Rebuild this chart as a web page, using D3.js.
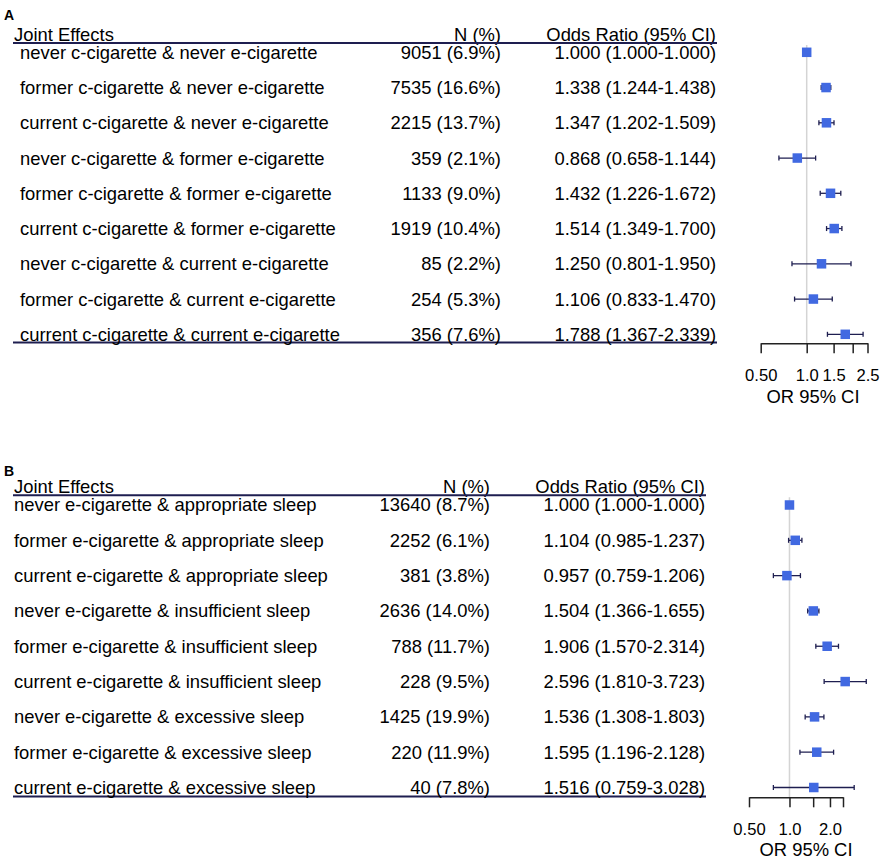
<!DOCTYPE html>
<html>
<head>
<meta charset="utf-8">
<script src="https://cdn.jsdelivr.net/npm/d3@7"></script>
<style>
  html, body { margin: 0; padding: 0; background: #fff; }
  svg { display: block; font-family: "Liberation Sans", Arial, sans-serif; }
</style>
</head>
<body>
<div id="chart"></div>
<script>
// Panel A — smoking (c-cigarette x e-cigarette)
const labelsA = [
    'never c-cigarette & never e-cigarette',
    'former c-cigarette & never e-cigarette',
    'current c-cigarette & never e-cigarette',
    'never c-cigarette & former e-cigarette',
    'former c-cigarette & former e-cigarette',
    'current c-cigarette & former e-cigarette',
    'never c-cigarette & current e-cigarette',
    'former c-cigarette & current e-cigarette',
    'current c-cigarette & current e-cigarette'
];
const nA   = ['9051 (6.9%)', '7535 (16.6%)', '2215 (13.7%)', '359 (2.1%)', '1133 (9.0%)',
              '1919 (10.4%)', '85 (2.2%)', '254 (5.3%)', '356 (7.6%)'];
const orA  = [1.000, 1.338, 1.347, 0.868, 1.432, 1.514, 1.250, 1.106, 1.788];
const loA  = [1.000, 1.244, 1.202, 0.658, 1.226, 1.349, 0.801, 0.833, 1.367];
const hiA  = [1.000, 1.438, 1.509, 1.144, 1.672, 1.700, 1.950, 1.470, 2.339];
const tickValsA   = [0.5, 1.0, 1.5, 2.0, 2.5];
const tickLabelsA = ['0.50', '1.0', '1.5', '', '2.5'];

// Panel B — e-cigarette x sleep
const labelsB = [
    'never e-cigarette & appropriate sleep',
    'former e-cigarette & appropriate sleep',
    'current e-cigarette & appropriate sleep',
    'never e-cigarette & insufficient sleep',
    'former e-cigarette & insufficient sleep',
    'current e-cigarette & insufficient sleep',
    'never e-cigarette & excessive sleep',
    'former e-cigarette & excessive sleep',
    'current e-cigarette & excessive sleep'
];
const nB   = ['13640 (8.7%)', '2252 (6.1%)', '381 (3.8%)', '2636 (14.0%)', '788 (11.7%)',
              '228 (9.5%)', '1425 (19.9%)', '220 (11.9%)', '40 (7.8%)'];
const orB  = [1.000, 1.104, 0.957, 1.504, 1.906, 2.596, 1.536, 1.595, 1.516];
const loB  = [1.000, 0.985, 0.759, 1.366, 1.570, 1.810, 1.308, 1.196, 0.759];
const hiB  = [1.000, 1.237, 1.206, 1.655, 2.314, 3.723, 1.803, 2.128, 3.028];
const tickValsB   = [0.5, 1.0, 1.5, 2.0, 2.5];
const tickLabelsB = ['0.50', '1.0', '', '2.0', ''];

const fmt = d3.format('.3f');

const W = 893, H = 867;
const svg = d3.select('#chart').append('svg')
    .attr('width', W).attr('height', H);

const FONT = 18.4;
const LINE = '#1e1e50';

function drawPanel(cfg) {
    const g = svg.append('g');
    const n = cfg.labels.length;

    const y = d3.scaleLinear().domain([0, n - 1]).range([cfg.rowTop, cfg.rowBottom]);
    const x = d3.scaleLog().domain([0.5, 2.5]).range([cfg.x0, cfg.x1]);

    // panel letter
    g.append('text')
        .attr('x', 4).attr('y', cfg.letterY)
        .attr('font-size', 14).attr('font-weight', 'bold')
        .text(cfg.letter);

    // header
    const head = g.append('g').attr('font-size', FONT).attr('fill', '#000');
    head.append('text').attr('x', 14).attr('y', cfg.headY).text('Joint Effects');
    head.append('text').attr('x', cfg.nRight).attr('y', cfg.headY)
        .attr('text-anchor', 'end').text('N (%)');
    head.append('text').attr('x', cfg.orRight).attr('y', cfg.headY)
        .attr('text-anchor', 'end').text('Odds Ratio (95% CI)');

    // horizontal rules
    [cfg.topLine, cfg.bottomLine].forEach(ly => {
        g.append('line')
            .attr('x1', 13).attr('x2', cfg.orRight + 1)
            .attr('y1', ly).attr('y2', ly)
            .attr('stroke', LINE).attr('stroke-width', 2);
    });

    // table rows
    const rows = g.append('g').attr('font-size', FONT).attr('fill', '#000')
        .selectAll('g').data(d3.range(n)).join('g')
        .attr('transform', i => `translate(0,${y(i)})`);
    rows.append('text').attr('x', cfg.labelX).attr('dy', '0.35em')
        .text(i => cfg.labels[i]);
    rows.append('text').attr('x', cfg.nRight).attr('dy', '0.35em')
        .attr('text-anchor', 'end').text(i => cfg.ns[i]);
    rows.append('text').attr('x', cfg.orRight).attr('dy', '0.35em')
        .attr('text-anchor', 'end')
        .text(i => `${fmt(cfg.or[i])} (${fmt(cfg.lo[i])}-${fmt(cfg.hi[i])})`);

    // reference line at OR = 1
    g.append('line')
        .attr('x1', x(1)).attr('x2', x(1))
        .attr('y1', cfg.topLine + 2).attr('y2', cfg.axisY)
        .attr('stroke', '#d4d4d4').attr('stroke-width', 1.5);

    // confidence intervals
    const ci = g.append('g').attr('stroke', LINE).attr('stroke-width', 1.3);
    d3.range(n).forEach(i => {
        if (cfg.lo[i] === cfg.hi[i]) return;
        ci.append('line')
            .attr('x1', x(cfg.lo[i])).attr('x2', x(cfg.hi[i]))
            .attr('y1', y(i)).attr('y2', y(i));
        [cfg.lo[i], cfg.hi[i]].forEach(v => {
            ci.append('line')
                .attr('x1', x(v)).attr('x2', x(v))
                .attr('y1', y(i) - 2.5).attr('y2', y(i) + 2.5);
        });
    });

    // point estimates
    const box = 9.5;
    g.append('g').selectAll('rect').data(d3.range(n)).join('rect')
        .attr('x', i => x(cfg.or[i]) - box / 2)
        .attr('y', i => y(i) - box / 2)
        .attr('width', box).attr('height', box)
        .attr('fill', '#4169e1');

    // axis
    const axis = d3.axisBottom(x)
        .tickValues(cfg.tickVals)
        .tickFormat((d, i) => cfg.tickLabels[i])
        .tickSize(10).tickSizeOuter(0).tickPadding(16);
    const ax = g.append('g')
        .attr('transform', `translate(0,${cfg.axisY})`)
        .call(axis);
    ax.select('.domain').attr('stroke', '#222').attr('stroke-width', 1.5);
    ax.selectAll('.tick line').attr('stroke', '#222').attr('stroke-width', 1.5);
    ax.selectAll('.tick text')
        .attr('font-size', 16.6).attr('fill', '#000')
        .attr('font-family', '"Liberation Sans", Arial, sans-serif');

    g.append('text')
        .attr('x', cfg.titleX).attr('y', cfg.titleY)
        .attr('text-anchor', 'middle')
        .attr('font-size', FONT)
        .text('OR 95% CI');
}

drawPanel({
    letter: 'A', letterY: 20,
    labels: labelsA, ns: nA, or: orA, lo: loA, hi: hiA,
    tickVals: tickValsA, tickLabels: tickLabelsA,
    headY: 41, topLine: 43, bottomLine: 342.5,
    rowTop: 52.3, rowBottom: 334.3,
    labelX: 20, nRight: 501, orRight: 716,
    x0: 760.7, x1: 867.5, axisY: 343.3,
    titleX: 813, titleY: 403
});

drawPanel({
    letter: 'B', letterY: 476,
    labels: labelsB, ns: nB, or: orB, lo: loB, hi: hiB,
    tickVals: tickValsB, tickLabels: tickLabelsB,
    headY: 493.3, topLine: 495.3, bottomLine: 796.5,
    rowTop: 505, rowBottom: 787.5,
    labelX: 14, nRight: 490, orRight: 705,
    x0: 749, x1: 843, axisY: 797.3,
    titleX: 806, titleY: 856
});
</script>
</body>
</html>
